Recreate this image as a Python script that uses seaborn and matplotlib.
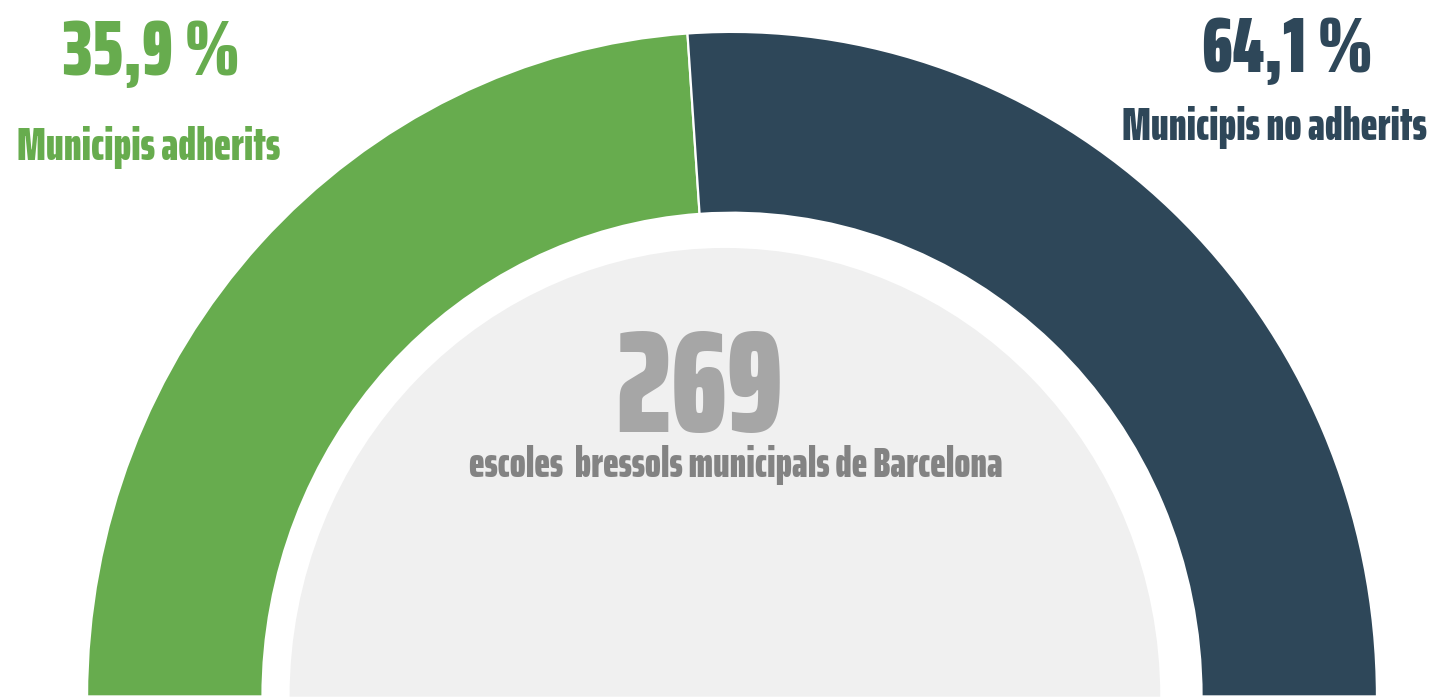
import matplotlib
matplotlib.use("Agg")
import matplotlib.pyplot as plt
import seaborn as sns

# ---- data -------------------------------------------------------------
categories = ["Municipis adherits", "Municipis no adherits"]
percent_values = [35.9, 64.1]          # printed percentages
arc_share = [47.8, 52.2]               # share of the half ring as drawn in the picture
total_schools = 269
subtitle = "escoles  bressols municipals de Barcelona"

# ---- style ------------------------------------------------------------
sns.set_theme(style="white")
FONT = ["Saira ExtraCondensed", "DejaVu Sans"]
plt.rcParams["font.family"] = FONT

GREEN = "#67ac4e"
NAVY = "#2e4759"
LIGHT = "#f0f0f0"
NUM_GREY = "#a6a6a6"
SUB_GREY = "#838383"

W, H = 1435, 698
fig = plt.figure(figsize=(W / 100, H / 100), dpi=100)
fig.patch.set_facecolor("white")
ax = fig.add_axes([0, 0, 1, 1])

# half ring: two visible slices + hidden lower half
ax.pie(arc_share + [sum(arc_share)],
       colors=[GREEN, NAVY, "none"],
       startangle=180, counterclock=False, radius=1.0,
       wedgeprops=dict(width=0.272, edgecolor="white", linewidth=1.6))
# inner light half disc
ax.pie([1, 1], colors=[LIGHT, "none"], startangle=0, radius=0.675,
       center=(-0.011, 0), wedgeprops=dict(linewidth=0))

ax.set_aspect("auto")
ax.set_xlim(-1.135, 1.090)
ax.set_ylim(-0.002, 1.048)
ax.axis("off")


def fx(px):
    return px / W


def fy(py):
    return 1 - py / H


pct_text = [f"{v:.1f}".replace(".", ",") + " %" for v in percent_values]
kw = dict(ha="center", va="baseline", fontweight=900)

fig.text(fx(152), fy(75), pct_text[0], color=GREEN, fontsize=57, **kw)
fig.text(fx(149), fy(160), categories[0], color=GREEN, fontsize=33, **kw)
fig.text(fx(1288), fy(72), pct_text[1], color=NAVY, fontsize=57, **kw)
fig.text(fx(1274), fy(140), categories[1], color=NAVY, fontsize=33, **kw)

fig.text(fx(699), fy(432), str(total_schools), color=NUM_GREY, fontsize=104, **kw)
fig.text(fx(736), fy(477), subtitle, color=SUB_GREY, fontsize=30.5, **kw)

fig.savefig("out.png", dpi=100, facecolor="white")
